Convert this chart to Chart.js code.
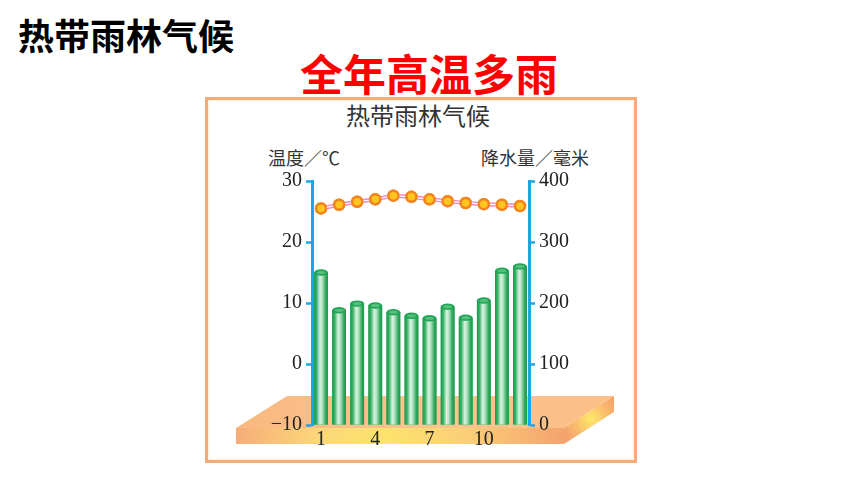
<!DOCTYPE html>
<html>
<head>
<meta charset="utf-8">
<script src="https://cdn.jsdelivr.net/npm/chart.js@4.4.1/dist/chart.umd.min.js"></script>
<style>
  html, body { margin: 0; padding: 0; background: #ffffff; }
  #wrap { position: relative; width: 860px; height: 484px; overflow: hidden; font-family: "Noto Sans CJK SC", "Noto Sans", sans-serif; }
  .abs { position: absolute; white-space: nowrap; }
  #frame { left: 205px; top: 97px; width: 426px; height: 360px; border: 3px solid #f5ab76; box-shadow: inset 0 0 0 2px #fff6e6; background: #ffffff; }
  #h1 { left: 18px; top: 11px; font-size: 36px; line-height: 46px; font-weight: 700; color: #000; }
  #h2 { left: 300px; top: 46px; font-size: 43px; line-height: 52px; font-weight: 700; color: #ff0000; }
  #ct { left: 346px; top: 100px; font-size: 24px; line-height: 30px; color: #333; font-weight: 400; }
  #tl { left: 268px; top: 145px; font-size: 18px; line-height: 24px; color: #333; }
  #tr { left: 481px; top: 145px; font-size: 18px; line-height: 24px; color: #333; }
  canvas { position: absolute; left: 0; top: 0; }
</style>
</head>
<body>
<div id="wrap">
  <div id="frame" class="abs"></div>
  <div id="h1" class="abs">热带雨林气候</div>
  <div id="h2" class="abs">全年高温多雨</div>
  <div id="ct" class="abs">热带雨林气候</div>
  <div id="tl" class="abs">温度／℃</div>
  <div id="tr" class="abs">降水量／毫米</div>
  <canvas id="c" width="860" height="484"></canvas>
</div>
<script>
// ---- data ----
const months = ['1','2','3','4','5','6','7','8','9','10','11','12'];
const temperature = [25.5, 26.1, 26.6, 27.0, 27.6, 27.4, 27.0, 26.7, 26.4, 26.2, 26.1, 25.9];
const precipitation = [250, 188, 199, 196, 185, 179, 175, 194, 176, 204, 253, 260];
const tempTicks = [-10, 0, 10, 20, 30];
const precipTicks = [0, 100, 200, 300, 400];
const shownMonthLabels = ['1', '4', '7', '10'];

const AXIS = '#1ba6e6';
const TICKFONT = { family: '"Liberation Serif", "DejaVu Serif", serif', size: 20 };

const platePlugin = {
  id: 'plate',
  beforeDraw(chart) {
    const { ctx, chartArea: a } = chart;
    const L = a.left, R = a.right, B = a.bottom;
    ctx.save();
    const gt = ctx.createLinearGradient(L - 76, 0, R + 85, 0);
    gt.addColorStop(0, '#f9b980');
    gt.addColorStop(0.5, '#fbc48e');
    gt.addColorStop(1, '#fbbf88');
    ctx.fillStyle = gt;
    ctx.beginPath();
    ctx.moveTo(L - 76, B + 3);
    ctx.lineTo(L - 25, B - 29);
    ctx.lineTo(R + 85, B - 29);
    ctx.lineTo(R + 35, B + 3);
    ctx.closePath();
    ctx.fill();
    const gf = ctx.createLinearGradient(L - 76, 0, R + 35, 0);
    gf.addColorStop(0, '#f6ad78');
    gf.addColorStop(0.25, '#fcd77a');
    gf.addColorStop(0.45, '#fde36c');
    gf.addColorStop(0.7, '#fbcf78');
    gf.addColorStop(1, '#f5a36e');
    ctx.fillStyle = gf;
    ctx.fillRect(L - 76, B + 3, (R + 35) - (L - 76), 16);
    const gs = ctx.createRadialGradient(R + 62, B - 6, 2, R + 62, B - 6, 30);
    gs.addColorStop(0, '#fde46a');
    gs.addColorStop(0.5, '#f9bd6c');
    gs.addColorStop(1, '#f4a16c');
    ctx.fillStyle = gs;
    ctx.beginPath();
    ctx.moveTo(R + 35, B + 3);
    ctx.lineTo(R + 85, B - 29);
    ctx.lineTo(R + 85, B - 13);
    ctx.lineTo(R + 35, B + 19);
    ctx.closePath();
    ctx.fill();
    ctx.restore();
  },
  afterDatasetDraw(chart, args) {
    const { ctx } = chart;
    const meta = args.meta;
    if (meta.type === 'bar') {
      ctx.save();
      meta.data.forEach(bar => {
        const w = bar.width, x0 = bar.x - w / 2;
        const g = ctx.createLinearGradient(x0, 0, x0 + w, 0);
        g.addColorStop(0, '#17984a');
        g.addColorStop(0.18, '#3ab166');
        g.addColorStop(0.42, '#d6f2de');
        g.addColorStop(0.58, '#b5e4c4');
        g.addColorStop(0.85, '#2fa75b');
        g.addColorStop(1, '#17984a');
        ctx.fillStyle = g;
        ctx.fillRect(x0, bar.y, w, bar.base - bar.y);
        ctx.beginPath();
        ctx.ellipse(bar.x, bar.y, w / 2, 3.2, 0, 0, Math.PI * 2);
        ctx.fillStyle = '#22a456';
        ctx.fill();
        ctx.beginPath();
        ctx.ellipse(bar.x, bar.y, w / 2 - 2.5, 1.6, 0, 0, Math.PI * 2);
        ctx.fillStyle = '#55bf7c';
        ctx.fill();
      });
      ctx.restore();
    } else if (meta.type === 'line') {
      const pts = meta.data;
      ctx.save();
      ctx.strokeStyle = '#ffffff';
      ctx.lineWidth = 1.2;
      ctx.beginPath();
      pts.forEach((p, i) => { if (i === 0) ctx.moveTo(p.x, p.y); else ctx.lineTo(p.x, p.y); });
      ctx.stroke();
      ctx.restore();
      pts.forEach(p => p.draw(ctx, chart.chartArea));
    }
  }
};

new Chart(document.getElementById('c'), {
  data: {
    labels: months,
    datasets: [
      {
        type: 'line',
        label: '气温',
        data: temperature,
        yAxisID: 'y',
        borderColor: '#ef86bd',
        borderWidth: 4,
        tension: 0,
        pointRadius: 5,
        pointBackgroundColor: '#ffc51f',
        pointBorderColor: '#f3841f',
        pointBorderWidth: 2.5,
        order: 0
      },
      {
        type: 'bar',
        label: '降水量',
        data: precipitation,
        yAxisID: 'y1',
        backgroundColor: '#2aa85c',
        barPercentage: 0.76,
        categoryPercentage: 1.0,
        order: 1
      }
    ]
  },
  options: {
    responsive: false,
    animation: false,
    devicePixelRatio: 1,
    layout: { padding: { top: 181, left: 0, right: 0, bottom: 0 } },
    plugins: { legend: { display: false }, tooltip: { enabled: false } },
    scales: {
      x: {
        type: 'category',
        offset: true,
        grid: { display: false, drawTicks: false },
        border: { display: false },
        ticks: {
          autoSkip: false,
          maxRotation: 0,
          padding: 3,
          color: '#222',
          font: TICKFONT,
          callback: function (v, i) {
            const l = months[i];
            return shownMonthLabels.includes(l) ? l : '';
          }
        },
        afterFit(s) { s.height = 484 - 425; }
      },
      y: {
        position: 'left',
        min: tempTicks[0],
        max: tempTicks[tempTicks.length - 1],
        afterBuildTicks(s) { s.ticks = tempTicks.map(v => ({ value: v })); },
        grid: { drawOnChartArea: false, color: AXIS, tickColor: AXIS, tickLength: 6, tickWidth: 2.5 },
        border: { color: AXIS, width: 3 },
        ticks: {
          padding: 4,
          color: '#222',
          font: TICKFONT,
          callback: v => (v < 0 ? '\u2212' + Math.abs(v) : String(v))
        },
        afterFit(s) { s.width = 312; }
      },
      y1: {
        position: 'right',
        min: precipTicks[0],
        max: precipTicks[precipTicks.length - 1],
        afterBuildTicks(s) { s.ticks = precipTicks.map(v => ({ value: v })); },
        grid: { drawOnChartArea: false, color: AXIS, tickColor: AXIS, tickLength: 6, tickWidth: 2.5 },
        border: { color: AXIS, width: 3 },
        ticks: { padding: 4, color: '#222', font: TICKFONT },
        afterFit(s) { s.width = 860 - 529; }
      }
    }
  },
  plugins: [platePlugin]
});
</script>
</body>
</html>
